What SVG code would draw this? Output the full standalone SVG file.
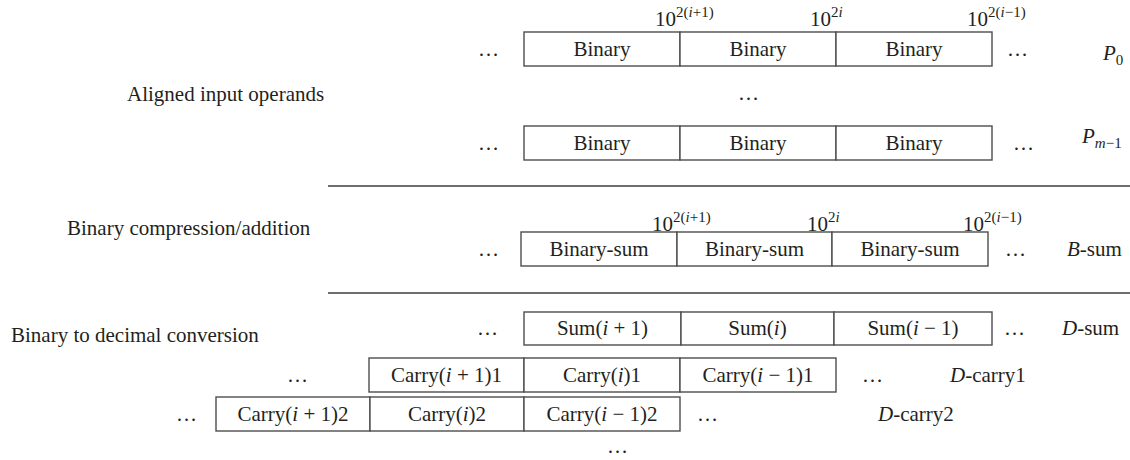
<svg xmlns="http://www.w3.org/2000/svg" width="1130" height="460" viewBox="0 0 1130 460">
<style>
text{font-family:"Liberation Serif","Times New Roman",serif;font-size:21px;fill:#231f20}
.c{text-anchor:middle}
.it{font-style:italic}
.sup{font-size:15px}
.sub{font-size:15px}
.cell{fill:#fff;stroke:#4d4d4d;stroke-width:1.4}
.rule{stroke:#6d6e71;stroke-width:1.8;fill:none}
</style>
<rect width="1130" height="460" fill="#fff"/>

<g id="labels">
<text x="127" y="101">Aligned input operands</text>
<text x="67" y="235">Binary compression/addition</text>
<text x="11" y="342">Binary to decimal conversion</text>
</g>

<g id="connectors">
<line class="rule" x1="328" y1="186" x2="1130" y2="186"/>
<line class="rule" x1="328" y1="293" x2="1130" y2="293"/>
</g>

<!-- P0 row -->
<g id="p0-exp">
<text x="655" y="26">10<tspan class="sup" dy="-9">2(<tspan class="it">i</tspan>+1)</tspan></text>
<text x="810" y="26">10<tspan class="sup" dy="-9">2<tspan class="it">i</tspan></tspan></text>
<text x="967" y="26">10<tspan class="sup" dy="-9">2(<tspan class="it">i</tspan>−1)</tspan></text>
</g>
<g id="p0-c1"><rect class="cell" x="524" y="32" width="156" height="34"/><text class="c" x="602" y="56">Binary</text></g>
<g id="p0-c2"><rect class="cell" x="680" y="32" width="156" height="34"/><text class="c" x="758" y="56">Binary</text></g>
<g id="p0-c3"><rect class="cell" x="836" y="32" width="156" height="34"/><text class="c" x="914" y="56">Binary</text></g>
<g id="p0-dots"><text x="478" y="56">…</text><text x="1007" y="56">…</text></g>
<g id="p0-label"><text class="it" x="1103" y="60">P<tspan class="sub" dy="5" font-style="normal">0</tspan></text></g>

<g id="mid-dots"><text x="738" y="100">…</text></g>

<!-- Pm-1 row -->
<g id="pm-c1"><rect class="cell" x="524" y="126" width="156" height="34"/><text class="c" x="602" y="150">Binary</text></g>
<g id="pm-c2"><rect class="cell" x="680" y="126" width="156" height="34"/><text class="c" x="758" y="150">Binary</text></g>
<g id="pm-c3"><rect class="cell" x="836" y="126" width="156" height="34"/><text class="c" x="914" y="150">Binary</text></g>
<g id="pm-dots"><text x="478" y="150">…</text><text x="1013" y="150">…</text></g>
<g id="pm-label"><text class="it" x="1082" y="143">P<tspan class="sub" dy="5">m</tspan><tspan class="sub" font-style="normal">−1</tspan></text></g>

<!-- B-sum row -->
<g id="b-exp">
<text x="652" y="231">10<tspan class="sup" dy="-9">2(<tspan class="it">i</tspan>+1)</tspan></text>
<text x="807" y="231">10<tspan class="sup" dy="-9">2<tspan class="it">i</tspan></tspan></text>
<text x="963" y="231">10<tspan class="sup" dy="-9">2(<tspan class="it">i</tspan>−1)</tspan></text>
</g>
<g id="b-c1"><rect class="cell" x="521" y="232" width="156" height="34"/><text class="c" x="599" y="256">Binary-sum</text></g>
<g id="b-c2"><rect class="cell" x="677" y="232" width="155" height="34"/><text class="c" x="754.5" y="256">Binary-sum</text></g>
<g id="b-c3"><rect class="cell" x="832" y="232" width="156" height="34"/><text class="c" x="910" y="256">Binary-sum</text></g>
<g id="b-dots"><text x="478" y="256">…</text><text x="1005" y="256">…</text></g>
<g id="b-label"><text x="1067" y="256"><tspan class="it">B</tspan>-sum</text></g>

<!-- D-sum row -->
<g id="d-c1"><rect class="cell" x="524" y="312" width="157" height="33"/><text class="c" x="602.5" y="335">Sum(<tspan class="it">i</tspan> + 1)</text></g>
<g id="d-c2"><rect class="cell" x="681" y="312" width="153" height="33"/><text class="c" x="757.5" y="335">Sum(<tspan class="it">i</tspan>)</text></g>
<g id="d-c3"><rect class="cell" x="834" y="312" width="158" height="33"/><text class="c" x="913" y="335">Sum(<tspan class="it">i</tspan> − 1)</text></g>
<g id="d-dots"><text x="477" y="335">…</text><text x="1004" y="335">…</text></g>
<g id="d-label"><text x="1062" y="335"><tspan class="it">D</tspan>-sum</text></g>

<!-- Carry1 row -->
<g id="c1-c1"><rect class="cell" x="369" y="358" width="155" height="34"/><text class="c" x="446.5" y="382">Carry(<tspan class="it">i</tspan> + 1)1</text></g>
<g id="c1-c2"><rect class="cell" x="524" y="358" width="156" height="34"/><text class="c" x="602" y="382">Carry(<tspan class="it">i</tspan>)1</text></g>
<g id="c1-c3"><rect class="cell" x="680" y="358" width="156" height="34"/><text class="c" x="758" y="382">Carry(<tspan class="it">i</tspan> − 1)1</text></g>
<g id="c1-dots"><text x="287" y="382">…</text><text x="862" y="382">…</text></g>
<g id="c1-label"><text x="950" y="382"><tspan class="it">D</tspan>-carry1</text></g>

<!-- Carry2 row -->
<g id="c2-c1"><rect class="cell" x="216" y="397" width="154" height="34"/><text class="c" x="293" y="421">Carry(<tspan class="it">i</tspan> + 1)2</text></g>
<g id="c2-c2"><rect class="cell" x="370" y="397" width="154" height="34"/><text class="c" x="447" y="421">Carry(<tspan class="it">i</tspan>)2</text></g>
<g id="c2-c3"><rect class="cell" x="524" y="397" width="156" height="34"/><text class="c" x="602" y="421">Carry(<tspan class="it">i</tspan> − 1)2</text></g>
<g id="c2-dots"><text x="176" y="421">…</text><text x="697" y="421">…</text></g>
<g id="c2-label"><text x="878" y="421"><tspan class="it">D</tspan>-carry2</text></g>

<g id="bottom-dots"><text x="607" y="453">…</text></g>
</svg>
